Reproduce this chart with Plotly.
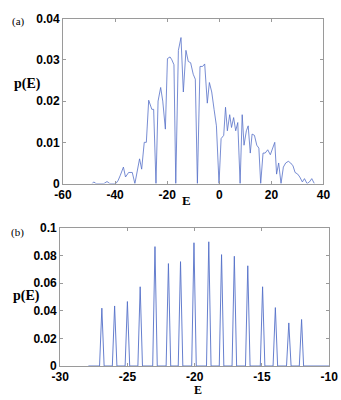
import plotly.graph_objects as go

# Panel (a): energy distribution p(E)
E_a = [-48.8, -48.2, -47.3, -44.3, -43.1, -42.0, -39.7, -38.8, -38.0, -36.8, -36.0,
       -34.8, -33.4, -32.4, -30.6, -29.8, -28.8, -28.0, -27.1, -25.9, -25.2, -24.3,
       -23.5, -22.5, -21.7, -20.7, -19.9, -18.9, -18.2, -17.4, -16.7, -15.7, -14.7,
       -13.8, -12.8, -11.9, -11.0, -10.0, -9.2, -8.4, -7.4, -6.4, -5.6, -4.6, -3.8,
       -2.9, -2.0, -1.1, -0.1, 0.7, 1.7, 2.4, 3.1, 4.0, 4.7, 5.5, 6.3, 7.1, 8.0, 8.8,
       9.5, 10.4, 11.1, 11.9, 12.6, 13.5, 14.4, 15.2, 15.9, 16.8, 17.6, 18.6, 19.6,
       20.4, 21.3, 22.0, 22.8, 23.7, 24.6, 25.5, 26.5, 27.4, 28.3, 29.1, 30.1, 30.9,
       31.9, 32.7, 33.7, 34.6, 35.5, 36.5]
p_a = [0.0, 0.0004, 0.0, 0.0, 0.0005, 0.0, 0.0, 0.0008, 0.002, 0.004, 0.0016,
       0.0027, 0.0027, 0.0, 0.006, 0.0035, 0.010, 0.010, 0.0202, 0.018, 0.018, 0.0,
       0.020, 0.0233, 0.020, 0.0132, 0.0303, 0.0307, 0.030, 0.0288, 0.0, 0.0323, 0.0354,
       0.0222, 0.0323, 0.0296, 0.0293, 0.0265, 0.0253, 0.0, 0.0284, 0.0284, 0.029, 0.0195, 0.0245,
       0.0222, 0.018, 0.014, 0.0, 0.0109, 0.0117, 0.0185, 0.0128, 0.0167, 0.0136, 0.016, 0.0128,
       0.0148, 0.0, 0.0167, 0.0093, 0.0128, 0.014, 0.0074, 0.012, 0.0117, 0.0093, 0.0086,
       0.0, 0.0074, 0.0074, 0.0082, 0.007, 0.0086, 0.010, 0.0023, 0.005, 0.0, 0.004, 0.005,
       0.0054, 0.005, 0.0043, 0.0027, 0.0023, 0.0016, 0.0004, 0.0012, 0.0, 0.0004, 0.0012, 0.0]

# Panel (b): discrete peaks
E_b = [-27.9,
       -27.07, -26.9, -26.73,
       -26.12, -25.95, -25.78,
       -25.17, -25.0, -24.83,
       -24.22, -24.05, -23.88,
       -23.12, -22.95, -22.78,
       -22.12, -21.95, -21.78,
       -21.22, -21.05, -20.88,
       -20.22, -20.05, -19.88,
       -19.12, -18.95, -18.78,
       -18.17, -18.0, -17.83,
       -17.22, -17.05, -16.88,
       -16.22, -16.05, -15.88,
       -15.12, -14.95, -14.78,
       -14.17, -14.0, -13.83,
       -13.17, -13.0, -12.83,
       -12.22, -12.05, -11.9,
       -10.0]
p_b = [0.0,
       0.0, 0.0419, 0.0,
       0.0, 0.0435, 0.0,
       0.0, 0.0467, 0.0,
       0.0, 0.0574, 0.0,
       0.0, 0.0865, 0.0,
       0.0, 0.0742, 0.0,
       0.0, 0.0756, 0.0,
       0.0, 0.0893, 0.0,
       0.0, 0.0900, 0.0,
       0.0, 0.0807, 0.0,
       0.0, 0.0795, 0.0,
       0.0, 0.0726, 0.0,
       0.0, 0.0574, 0.0,
       0.0, 0.0423, 0.0,
       0.0, 0.0312, 0.0,
       0.0, 0.0337, 0.0,
       0.0]

xticks_a = [-60, -40, -20, 0, 20, 40]
yticks_a = [0, 0.01, 0.02, 0.03, 0.04]
xticks_b = [-30, -25, -20, -15, -10]
yticks_b = [0, 0.02, 0.04, 0.06, 0.08, 0.1]

line_color = "#5570c8"
frame = "#9a9a9a"
tick_font = dict(family="Liberation Sans, Arial", size=12, color="black")
serif = "Liberation Serif, Times New Roman"

fig = go.Figure()
fig.add_trace(go.Scatter(x=E_a, y=p_a, mode="lines", xaxis="x", yaxis="y",
                         line=dict(color=line_color, width=0.8), showlegend=False))
fig.add_trace(go.Scatter(x=E_b, y=p_b, mode="lines", xaxis="x2", yaxis="y2",
                         line=dict(color=line_color, width=0.9), showlegend=False))

axis_common = dict(showgrid=False, zeroline=False, showline=True, linecolor=frame,
                   linewidth=1, mirror="ticks", ticks="inside", ticklen=3,
                   tickcolor=frame, tickfont=tick_font)

fig.update_layout(
    width=341, height=400,
    margin=dict(l=0, r=0, t=0, b=0),
    paper_bgcolor="white", plot_bgcolor="white",
    xaxis=dict(domain=[57/341, 332/341], range=[-60, 40], tickvals=xticks_a,
               ticktext=[f"<b>{v}</b>" for v in xticks_a], anchor="y", **axis_common),
    yaxis=dict(domain=[(400-183)/400, (400-12)/400], range=[0, 0.04], tickvals=yticks_a,
               ticktext=[f"<b>{v:g}</b>" for v in yticks_a], anchor="x", **axis_common),
    xaxis2=dict(domain=[54/341, 338/341], range=[-30, -10], tickvals=xticks_b,
                ticktext=[f"<b>{v}</b>" for v in xticks_b], anchor="y2", **axis_common),
    yaxis2=dict(domain=[(400-372)/400, (400-229)/400], range=[0, 0.1], tickvals=yticks_b,
                ticktext=[f"<b>{v:g}</b>" for v in yticks_b], anchor="x2", **axis_common),
)

def ann(text, x, y, size, bold=False):
    fig.add_annotation(text=f"<b>{text}</b>" if bold else text, x=x, y=y,
                       xref="paper", yref="paper", showarrow=False,
                       xanchor="center", yanchor="middle", borderpad=0,
                       font=dict(family=serif, size=size, color="black"))

ann("(a)", 10/341, 1 - 15/400, 11)
ann("p(E)", 20/341, 1 - 80/400, 14, bold=True)
ann("E", 187/341, 1 - 200/400, 13, bold=True)
ann("(b)", 9/341, 1 - 234/400, 11)
ann("p(E)", 19/341, 1 - 299/400, 14, bold=True)
ann("E", 200/341, 1 - 397/400, 12, bold=True)

fig.write_html("out.html")
